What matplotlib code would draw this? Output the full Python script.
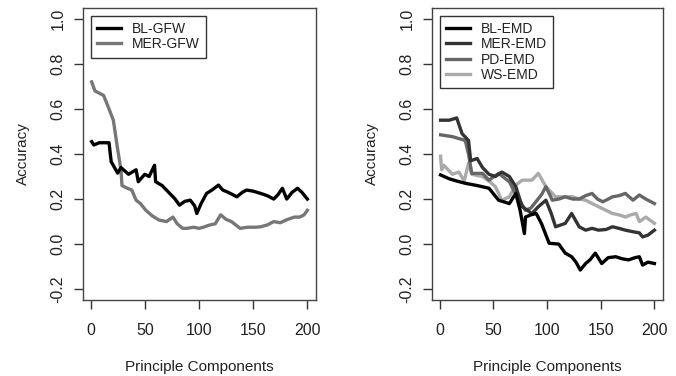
import matplotlib
matplotlib.use("Agg")
import matplotlib.pyplot as plt

plt.rcParams['font.family'] = ['Liberation Sans', 'DejaVu Sans']

# ---- left panel: GFW ----
bl_gfw_x = [1, 3, 8, 17, 19, 25, 28, 35, 42, 44, 50, 54, 59, 60, 66, 73, 78, 82, 87, 92, 96, 98,
            102, 107, 112, 118, 122, 126, 131, 135, 140, 144, 150, 157, 163, 169, 173, 177, 181,
            186, 191, 195, 200]
bl_gfw_y = [0.455, 0.44, 0.45, 0.45, 0.366, 0.315, 0.34, 0.31, 0.33, 0.277, 0.31, 0.30, 0.35,
            0.277, 0.26, 0.225, 0.20, 0.173, 0.19, 0.195, 0.17, 0.136, 0.18, 0.225, 0.24, 0.262,
            0.24, 0.232, 0.22, 0.21, 0.23, 0.24, 0.235, 0.225, 0.215, 0.20, 0.22, 0.248, 0.20,
            0.23, 0.248, 0.23, 0.20]
mer_gfw_x = [1, 4, 8, 12, 17, 21, 25, 28, 29, 33, 38, 42, 46, 51, 57, 63, 70, 76, 80, 85, 89, 95,
             100, 104, 110, 115, 120, 125, 130, 138, 145, 152, 157, 163, 169, 175, 182, 188, 193,
             197, 200]
mer_gfw_y = [0.72, 0.68, 0.67, 0.66, 0.60, 0.55, 0.42, 0.33, 0.26, 0.25, 0.24, 0.195, 0.18, 0.15,
             0.125, 0.107, 0.10, 0.12, 0.09, 0.07, 0.07, 0.075, 0.07, 0.075, 0.085, 0.09, 0.13,
             0.11, 0.10, 0.07, 0.075, 0.075, 0.077, 0.085, 0.10, 0.095, 0.11, 0.12, 0.12, 0.13,
             0.15]

# ---- right panel: EMD ----
bl_emd_x = [1, 9, 16, 24, 35, 46, 55, 65, 71, 75, 79, 80, 85, 90, 95, 102, 111, 117, 123, 127,
            131, 136, 140, 145, 151, 157, 164, 170, 176, 182, 186, 189, 194, 200]
bl_emd_y = [0.307, 0.29, 0.28, 0.27, 0.26, 0.248, 0.195, 0.18, 0.225, 0.15, 0.047, 0.12, 0.13,
            0.136, 0.09, 0.004, 0.0, -0.04, -0.056, -0.08, -0.115, -0.086, -0.07, -0.04, -0.086,
            -0.06, -0.056, -0.065, -0.07, -0.06, -0.056, -0.093, -0.08, -0.086]
mer_emd_x = [1, 9, 16, 21, 27, 29, 35, 40, 46, 52, 58, 65, 71, 77, 86, 92, 99, 104, 108, 117,
             123, 130, 136, 142, 148, 155, 161, 167, 173, 180, 186, 189, 194, 200]
mer_emd_y = [0.55, 0.55, 0.56, 0.49, 0.46, 0.37, 0.38, 0.34, 0.31, 0.30, 0.32, 0.30, 0.255,
             0.166, 0.136, 0.166, 0.195, 0.136, 0.077, 0.092, 0.136, 0.077, 0.062, 0.07, 0.062,
             0.065, 0.077, 0.07, 0.062, 0.055, 0.05, 0.032, 0.04, 0.062]
pd_emd_x = [1, 12, 24, 27, 30, 40, 46, 55, 65, 70, 75, 80, 85, 90, 95, 99, 105, 111, 117, 124,
            130, 136, 142, 147, 152, 157, 161, 167, 173, 180, 186, 192, 200]
pd_emd_y = [0.485, 0.477, 0.46, 0.40, 0.314, 0.314, 0.284, 0.314, 0.277, 0.23, 0.19, 0.15, 0.16,
            0.19, 0.22, 0.255, 0.195, 0.20, 0.21, 0.20, 0.20, 0.215, 0.225, 0.20, 0.188, 0.20,
            0.21, 0.215, 0.225, 0.195, 0.218, 0.2, 0.18]
ws_emd_x = [1, 2, 4, 12, 18, 23, 27, 30, 40, 46, 52, 58, 65, 71, 77, 86, 92, 96, 99, 104, 108,
            116, 124, 130, 136, 142, 148, 155, 161, 167, 173, 178, 183, 186, 192, 200]
ws_emd_y = [0.39, 0.33, 0.35, 0.31, 0.32, 0.28, 0.36, 0.31, 0.30, 0.28, 0.255, 0.195, 0.21,
            0.262, 0.284, 0.284, 0.314, 0.28, 0.255, 0.23, 0.21, 0.21, 0.21, 0.20, 0.195, 0.18,
            0.166, 0.15, 0.136, 0.13, 0.12, 0.13, 0.136, 0.10, 0.12, 0.092]

y_ticks = [-0.2, 0.0, 0.2, 0.4, 0.6, 0.8, 1.0]
y_labels = ["-0.2", "0.0", "0.2", "0.4", "0.6", "0.8", "1.0"]
x_ticks = [0, 50, 100, 150, 200]

fig = plt.figure(figsize=(6.76, 3.76), dpi=100)
ax1 = fig.add_axes([83 / 676, 1 - 300 / 376, 233 / 676, 292 / 376])
ax2 = fig.add_axes([432 / 676, 1 - 300 / 376, 231 / 676, 292 / 376])

lw = 2.4
ax1.plot(bl_gfw_x, bl_gfw_y, color="#000000", lw=lw, label="BL-GFW", zorder=3)
ax1.plot(mer_gfw_x, mer_gfw_y, color="#777777", lw=lw, label="MER-GFW", zorder=2)

ax2.plot(bl_emd_x, bl_emd_y, color="#000000", lw=lw, label="BL-EMD", zorder=5)
ax2.plot(mer_emd_x, mer_emd_y, color="#333333", lw=lw, label="MER-EMD", zorder=4)
ax2.plot(pd_emd_x, pd_emd_y, color="#666666", lw=lw, label="PD-EMD", zorder=3)
ax2.plot(ws_emd_x, ws_emd_y, color="#aaaaaa", lw=lw, label="WS-EMD", zorder=2)

for ax in (ax1, ax2):
    ax.set_xlim(1 - 8, 208)
    ax.set_ylim(-0.248, 1.048)
    ax.set_xticks(x_ticks)
    ax.set_xticklabels([str(t) for t in x_ticks], fontsize=11.5, color="#222222")
    ax.set_yticks(y_ticks)
    ax.set_yticklabels(y_labels, fontsize=11.5, rotation=90, va="center", color="#222222")
    ax.tick_params(direction="out", length=6.5, width=1, color="#333333")
    ax.tick_params(axis="x", pad=10)
    ax.tick_params(axis="y", pad=6)
    for s in ax.spines.values():
        s.set_color("#444444")
        s.set_linewidth(1.0)
    ax.set_xlabel("Principle Components", fontsize=11, labelpad=16, color="#222222")
    ax.set_ylabel("Accuracy", fontsize=11, labelpad=15, color="#222222")
    leg = ax.legend(loc="upper left", fontsize=10, handlelength=1.7, handletextpad=0.8,
                    borderaxespad=0.55, fancybox=False, framealpha=1, edgecolor="#333333",
                    labelspacing=0.1, borderpad=0.45)
    leg.get_frame().set_linewidth(1.0)
    for t in leg.get_texts():
        t.set_color("#222222")

fig.savefig("out.png", dpi=100)
